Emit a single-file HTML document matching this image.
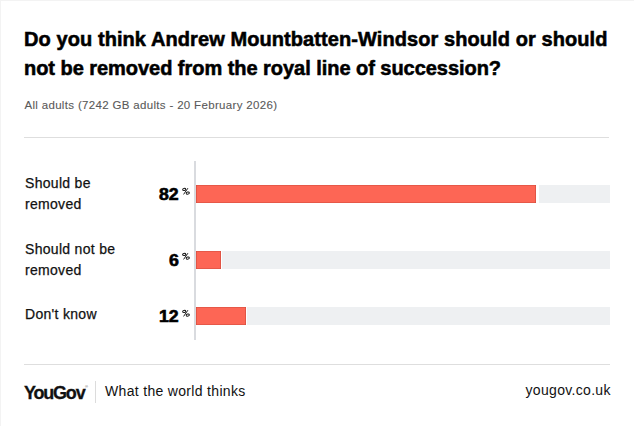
<!DOCTYPE html>
<html><head><meta charset="utf-8">
<style>
html,body{margin:0;padding:0;}
body{width:634px;height:426px;position:relative;overflow:hidden;background:#fff;font-family:"Liberation Sans",sans-serif;color:#111;}
.abs{position:absolute;white-space:nowrap;}
.frame{position:absolute;left:0;top:0;width:633px;height:425px;border-left:1px solid #f3f3f3;border-top:1px solid #f3f3f3;}
.title{left:24px;font-weight:bold;font-size:20px;line-height:29.5px;color:#000;-webkit-text-stroke:0.55px #000;}
.sub{left:24.4px;top:97.9px;font-size:11.5px;line-height:14px;color:#5a5a5a;letter-spacing:0.33px;-webkit-text-stroke:0.1px #5a5a5a;}
.hr{position:absolute;height:1px;background:#dedede;}
.axis{position:absolute;left:194px;top:161px;width:2px;height:179px;background:#d9dbdf;}
.track{position:absolute;height:17.5px;background:#eef0f2;}
.bar{position:absolute;left:196px;height:17.5px;background:#fd6655;box-shadow:inset 0 0 0 0.6px #d04a3c;}
.lab{left:25px;font-size:14px;line-height:21.3px;color:#111;letter-spacing:0.3px;-webkit-text-stroke:0.25px #111;}
.val{font-weight:bold;font-size:15.8px;line-height:16px;color:#000;text-align:right;-webkit-text-stroke:0.6px #000;transform:scaleX(1.12);transform-origin:100% 0;}
.pct{font-size:10px;line-height:10px;color:#111;}
.foot{font-size:14px;color:#111;letter-spacing:0.32px;}
</style></head><body>
<div class="frame"></div>
<div class="abs title" style="top:24.5px;letter-spacing:0.08px;">Do you think Andrew Mountbatten-Windsor should or should</div>
<div class="abs title" style="top:54px;letter-spacing:-0.04px;">not be removed from the royal line of succession?</div>
<div class="abs sub">All adults (7242 GB adults - 20 February 2026)</div>
<div class="hr" style="left:24px;top:137px;width:585px;"></div>

<div class="axis"></div>
<div class="track" style="left:539px;width:71px;top:185.3px;"></div>
<div class="bar" style="top:185.3px;width:340px;"></div>
<div class="track" style="left:222px;width:388px;top:251px;"></div>
<div class="bar" style="top:251px;width:24.5px;"></div>
<div class="track" style="left:247px;width:363px;top:307.3px;"></div>
<div class="bar" style="top:307.3px;width:49.5px;"></div>

<div class="abs lab" style="top:173.2px;">Should be<br>removed</div>
<div class="abs lab" style="top:238.9px;">Should not be<br>removed</div>
<div class="abs lab" style="top:304px;">Don't know</div>

<div class="abs val" style="right:455.4px;top:186.5px;">82</div>
<svg class="abs" style="left:181px;top:187px;" width="10" height="9" viewBox="0 0 10 9"><g fill="none" stroke="#111" stroke-width="0.95"><ellipse cx="3.2" cy="2.5" rx="1.6" ry="1.1" transform="rotate(-15 3.2 2.5)"/><ellipse cx="6.8" cy="6.1" rx="1.6" ry="1.1" transform="rotate(-15 6.8 6.1)"/><line x1="6.9" y1="1.2" x2="2.6" y2="7.4"/></g></svg>
<div class="abs val" style="right:455.4px;top:252.5px;">6</div>
<svg class="abs" style="left:181px;top:252.3px;" width="10" height="9" viewBox="0 0 10 9"><g fill="none" stroke="#111" stroke-width="0.95"><ellipse cx="3.2" cy="2.5" rx="1.6" ry="1.1" transform="rotate(-15 3.2 2.5)"/><ellipse cx="6.8" cy="6.1" rx="1.6" ry="1.1" transform="rotate(-15 6.8 6.1)"/><line x1="6.9" y1="1.2" x2="2.6" y2="7.4"/></g></svg>
<div class="abs val" style="right:455.4px;top:308.5px;">12</div>
<svg class="abs" style="left:181px;top:308.5px;" width="10" height="9" viewBox="0 0 10 9"><g fill="none" stroke="#111" stroke-width="0.95"><ellipse cx="3.2" cy="2.5" rx="1.6" ry="1.1" transform="rotate(-15 3.2 2.5)"/><ellipse cx="6.8" cy="6.1" rx="1.6" ry="1.1" transform="rotate(-15 6.8 6.1)"/><line x1="6.9" y1="1.2" x2="2.6" y2="7.4"/></g></svg>

<div class="hr" style="left:24px;top:364px;width:586px;"></div>
<div class="abs" style="left:24px;top:382.5px;font-weight:bold;font-size:18px;letter-spacing:-1.2px;color:#111;-webkit-text-stroke:0.3px #111;">YouGov</div>
<div class="abs" style="left:85px;top:385px;font-size:4px;line-height:4px;color:#555;">&#174;</div>
<div class="abs" style="left:95px;top:381px;width:1px;height:22px;background:#dcdcdc;"></div>
<div class="abs foot" style="left:105px;top:382.5px;">What the world thinks</div>
<div class="abs foot" style="right:23.2px;top:382.2px;">yougov.co.uk</div>
</body></html>
